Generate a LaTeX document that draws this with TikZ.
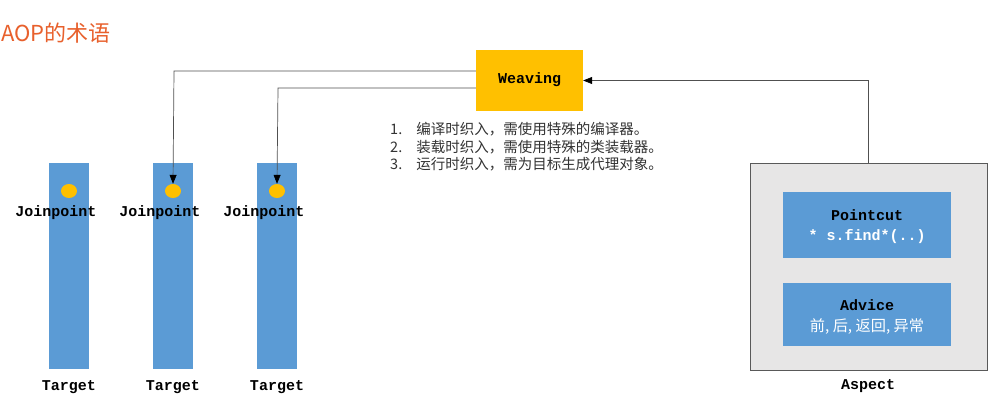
\documentclass[tikz,border=0pt]{standalone}
\usepackage{fontspec}
\setmainfont{Liberation Sans}
\newfontfamily\cjk{Noto Sans CJK SC}
\newfontfamily\cour[BoldFont={Liberation Mono Bold}]{Liberation Mono}
\usetikzlibrary{arrows.meta}
\definecolor{blueb}{HTML}{5B9BD5}
\definecolor{gold}{HTML}{FFC000}
\definecolor{titleor}{HTML}{E8602C}
\definecolor{graybg}{HTML}{E7E6E6}
\definecolor{grayedge}{HTML}{595959}
\definecolor{txt}{HTML}{333333}
\definecolor{lineg}{HTML}{505050}
\tikzset{
  bar/.style={fill=blueb, draw=none, minimum width=40pt, minimum height=206pt, inner sep=0pt},
  dot/.style={fill=gold, draw=none, ellipse, minimum width=16pt, minimum height=14pt, inner sep=0pt},
  mono/.style={font=\fontsize{15}{18}\selectfont\cour\bfseries, text=black, inner sep=0pt},
  conn/.style={draw=lineg, line width=0.7pt, -{Triangle[length=9pt,width=7pt,color=black]}},
  innerbox/.style={fill=blueb, draw=none, minimum width=168pt, inner sep=0pt},
}
\usetikzlibrary{shapes.geometric}
\begin{document}
\begin{tikzpicture}[x=1pt,y=-1pt]
\useasboundingbox[fill=white] (0,0) rectangle (1000,400);
% title
\node[anchor=west, inner sep=0pt, text=titleor, font=\fontsize{22}{25}\selectfont\cjk] (title) at (1,33) {AOP的术语};
% bars
\foreach \i/\x in {1/69,2/173,3/277}{
  \node[bar] (bar\i) at (\x,266) {};
  \node[dot] (dot\i) at (\x,191) {};
  \node[mono] (jp\i) at (\x-13,213) {Joinpoint};
  \node[mono] (tg\i) at (\x,387) {Target};
}
% weaving
\node[fill=gold, draw=none, minimum width=107pt, minimum height=61pt, inner sep=0pt] (weave) at (529.5,80.5) {};
\node[mono] (weavet) at (529.5,80) {Weaving};
% list
\node[anchor=north west, inner sep=0pt, text=txt, font=\fontsize{14.5}{17.6}\selectfont\cjk, align=left] (list) at (390,122)
{1.\hspace{14pt}编译时织入，需使用特殊的编译器。\\
 2.\hspace{14pt}装载时织入，需使用特殊的类装载器。\\
 3.\hspace{14pt}运行时织入，需为目标生成代理对象。};
% aspect
\node[fill=graybg, draw=grayedge, line width=0.8pt, minimum width=237pt, minimum height=207pt, inner sep=0pt] (aspect) at (868.5,266.5) {};
\node[innerbox, minimum height=66pt] (pc) at (867,225) {};
\node[mono] (pct) at (867,215) {Pointcut};
\node[mono, text=white] (pcs) at (867,237) {* s.find*(..)};
\node[innerbox, minimum height=63pt] (adv) at (867,314.5) {};
\node[mono] (advt) at (867,305) {Advice};
\node[inner sep=0pt, text=white, font=\fontsize{15.2}{18}\selectfont\cjk] (advs) at (867,327) {前, 后, 返回, 异常};
\node[mono] (asp) at (868,386) {Aspect};
% connectors
\coordinate (c1) at (174,71);
\coordinate (c2) at (278,88);
\draw[conn] (weave.west |- c1) -- (c1) -- (dot2.north);
\draw[conn] (weave.west |- c2) -- (c2) -- (dot3.north);
\draw[conn] (aspect.north) |- (weave.east);
\end{tikzpicture}
\end{document}
